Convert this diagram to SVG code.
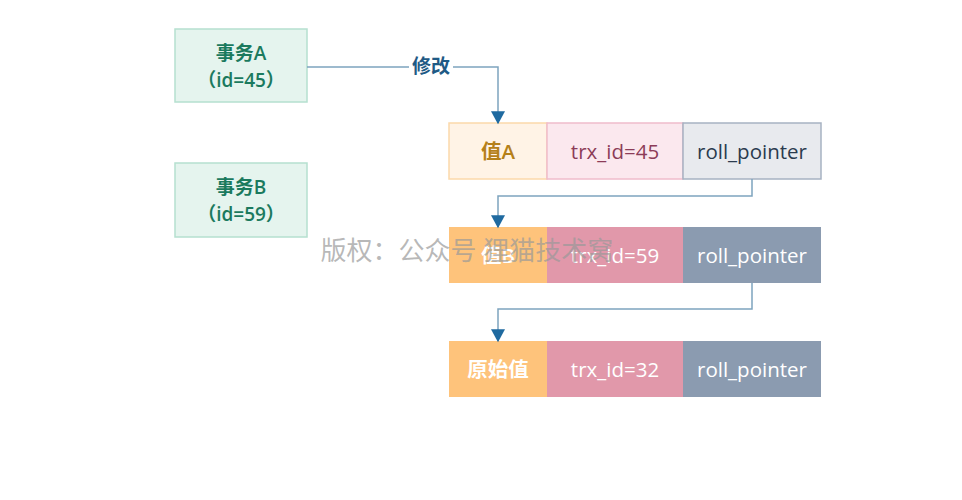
<svg xmlns="http://www.w3.org/2000/svg" width="962" height="500" viewBox="0 0 962 500">
<defs>
<marker id="arr" markerWidth="14" markerHeight="14" refX="10" refY="6" orient="auto" markerUnits="userSpaceOnUse" viewBox="0 0 12 12">
<path d="M0,0 L11,6 L0,12 Z" fill="#1f6aa0"/>
</marker>
<style>
text{font-family:"Open Sans","Noto Sans CJK SC",sans-serif;text-anchor:middle;dominant-baseline:central}
.tx rect{fill:#e5f4ee;stroke:#b5e0cf;stroke-width:1.5}
.tx text{fill:#1b7a5e;font-size:19px;font-weight:600}
.c{font-size:20.5px}
.w{fill:#fff}
.conn path{fill:none;stroke:#7ea4be;stroke-width:1.5}
</style>
</defs>
<rect width="962" height="500" fill="#fff"/>
<g id="txA" class="tx"><rect x="175" y="29" width="132" height="73"/><text x="241" y="53">事务A</text><text x="241" y="80">（id=45）</text></g>
<g id="txB" class="tx"><rect x="175" y="163" width="132" height="74"/><text x="241" y="187">事务B</text><text x="241" y="214">（id=59）</text></g>
<g id="row1">
<rect x="449" y="123" width="98" height="56" fill="#fff3e6" stroke="#fcd9aa" stroke-width="1.5"/>
<text class="c" x="498" y="151" fill="#b5801a" font-weight="600">值A</text>
<rect x="547" y="123" width="136" height="56" fill="#fbe8ee" stroke="#f0bccb" stroke-width="1.5"/>
<text class="c" x="615" y="151" fill="#8c3c58">trx_id=45</text>
<rect x="683" y="123" width="138" height="56" fill="#e8eaee" stroke="#a7b2c2" stroke-width="1.5"/>
<text class="c" x="752" y="151" fill="#2b3b4e">roll_pointer</text>
</g>
<g id="row2">
<rect x="449" y="227" width="98" height="56" fill="#fec37b"/>
<text class="c w" x="498" y="255" font-weight="600">值B</text>
<rect x="547" y="227" width="136" height="56" fill="#e198aa"/>
<text class="c w" x="615" y="255">trx_id=59</text>
<rect x="683" y="227" width="138" height="56" fill="#8b9bb0"/>
<text class="c w" x="752" y="255">roll_pointer</text>
</g>
<g id="row3">
<rect x="449" y="341" width="98" height="56" fill="#fec37b"/>
<text class="c w" x="498" y="369" font-weight="600">原始值</text>
<rect x="547" y="341" width="136" height="56" fill="#e198aa"/>
<text class="c w" x="615" y="369">trx_id=32</text>
<rect x="683" y="341" width="138" height="56" fill="#8b9bb0"/>
<text class="c w" x="752" y="369">roll_pointer</text>
</g>
<g class="conn">
<path d="M307,67 H498 V123" marker-end="url(#arr)"/>
<path d="M752,179 V196 H498 V227" marker-end="url(#arr)"/>
<path d="M752,283 V309 H498 V341" marker-end="url(#arr)"/>
<rect x="409" y="55" width="44" height="24" fill="#fff"/>
<text x="431" y="66" font-size="19" font-weight="600" fill="#1f5a85">修改</text>
</g>
<text x="467" y="250" font-size="26" fill="#999" fill-opacity="0.7">版权：公众号 狸猫技术窝</text>
</svg>
